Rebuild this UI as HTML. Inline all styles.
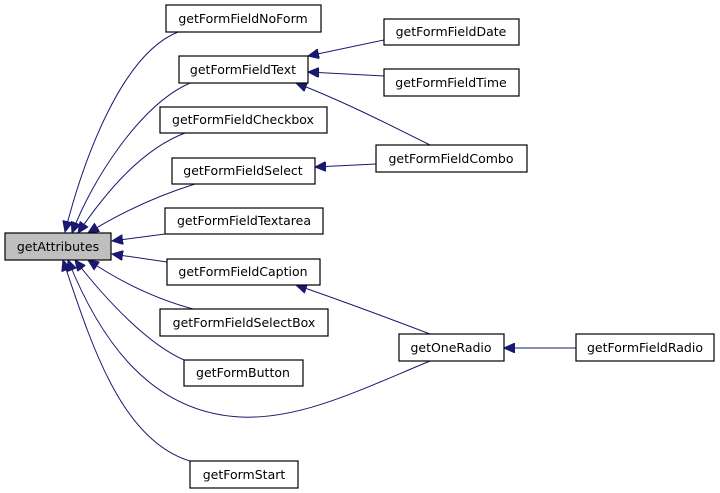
<!DOCTYPE html>
<html><head><meta charset="utf-8"><style>
html,body{margin:0;padding:0;background:#fff;width:720px;height:493px;overflow:hidden}
text{font-family:"DejaVu Sans","Liberation Sans",sans-serif;font-size:12.5px;fill:#000}
</style></head><body>
<svg width="720" height="493" viewBox="0 0 720 493" xmlns="http://www.w3.org/2000/svg">
<defs><marker id="a" markerWidth="12" markerHeight="10" refX="11" refY="5" orient="auto" markerUnits="userSpaceOnUse"><path d="M0,0 L11,5 L0,10 Z" fill="#191970" stroke="#191970"/></marker></defs>
<g fill="none" stroke="#191970" stroke-width="1" marker-end="url(#a)">
<path d="M178,32 C120,55 82,165 65,232"/>
<path d="M190,83 C140,105 92,180 72,233"/>
<path d="M185,133 C140,150 104,195 78,233"/>
<path d="M195,184 C160,195 125,210 88,233"/>
<path d="M165,234 L112,241"/>
<path d="M167,262 L112,254"/>
<path d="M193,309 C160,300 125,285 88,260"/>
<path d="M184,360 C150,345 110,305 75,260"/>
<path d="M430,361 C360,390 300,420 240,417 C150,412 100,340 68,260"/>
<path d="M190,461 C120,440 90,340 63,260"/>
<path d="M384,40 L308,56"/>
<path d="M384,76 L308,72"/>
<path d="M430,145 C380,120 340,100 296,83"/>
<path d="M376,164 L315,167"/>
<path d="M430,334 C380,315 340,300 296,285"/>
<path d="M576,348 L504,348"/>
</g>
<g stroke="#000" stroke-width="1.2" fill="#fff">
<rect x="5" y="233" width="106" height="27" fill="#bfbfbf"/>
<rect x="166" y="5" width="155" height="27"/>
<rect x="179" y="56" width="129" height="27"/>
<rect x="160" y="107" width="167" height="26"/>
<rect x="172" y="158" width="143" height="26"/>
<rect x="165" y="208" width="158" height="26"/>
<rect x="167" y="259" width="153" height="26"/>
<rect x="160" y="309" width="168" height="27"/>
<rect x="184" y="360" width="119" height="26"/>
<rect x="190" y="461" width="108" height="27"/>
<rect x="384" y="19" width="135" height="26"/>
<rect x="384" y="69" width="135" height="27"/>
<rect x="376" y="145" width="151" height="27"/>
<rect x="399" y="334" width="105" height="27"/>
<rect x="576" y="334" width="138" height="27"/>
</g>
<g text-anchor="middle">
<text x="58" y="251">getAttributes</text>
<text x="243" y="23">getFormFieldNoForm</text>
<text x="243" y="74">getFormFieldText</text>
<text x="243" y="124">getFormFieldCheckbox</text>
<text x="243" y="175">getFormFieldSelect</text>
<text x="244" y="225">getFormFieldTextarea</text>
<text x="243" y="276">getFormFieldCaption</text>
<text x="244" y="327">getFormFieldSelectBox</text>
<text x="243" y="377">getFormButton</text>
<text x="244" y="479">getFormStart</text>
<text x="451" y="36">getFormFieldDate</text>
<text x="451" y="87">getFormFieldTime</text>
<text x="451" y="163">getFormFieldCombo</text>
<text x="451" y="352">getOneRadio</text>
<text x="645" y="352">getFormFieldRadio</text>
</g>
</svg>
</body></html>
